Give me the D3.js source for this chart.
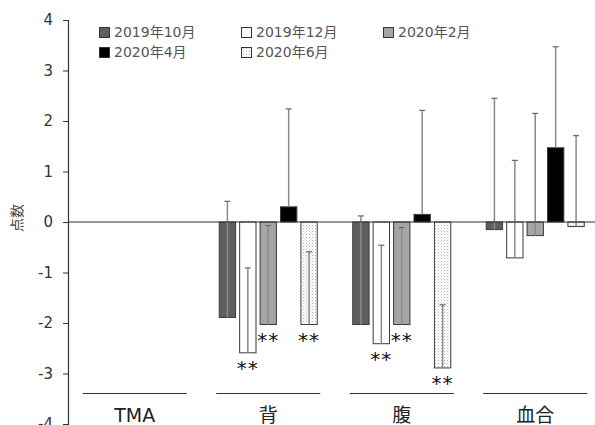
<!DOCTYPE html>
<html>
<head>
<meta charset="utf-8">
<script src="https://cdn.jsdelivr.net/npm/d3@7"></script>
<style>
  body { margin: 0; background: #fff; }
  text { font-family: "DejaVu Sans", "Noto Sans CJK JP", sans-serif; fill: #333; }
</style>
</head>
<body>
<svg id="chart" width="595" height="425"></svg>
<script>
// categories and series
const categories = ['TMA', '背', '腹', '血合'];
const series = ['2019年10月', '2019年12月', '2020年2月', '2020年4月', '2020年6月'];

// mean values per category (TMA has no bars)
const s2019_10 = [null, -1.89, -2.03, -0.15];
const s2019_12 = [null, -2.59, -2.41, -0.71];
const s2020_02 = [null, -2.03, -2.03, -0.27];
const s2020_04 = [null, 0.30, 0.15, 1.47];
const s2020_06 = [null, -2.03, -2.89, -0.09];

// top end of the error bar (value + sd)
const e2019_10 = [null, 0.41, 0.12, 2.45];
const e2019_12 = [null, -0.91, -0.46, 1.22];
const e2020_02 = [null, -0.07, -0.11, 2.15];
const e2020_04 = [null, 2.24, 2.21, 3.47];
const e2020_06 = [null, -0.59, -1.64, 1.71];

// significance marks
const sig2019_10 = [null, null, null, null];
const sig2019_12 = [null, '**', '**', null];
const sig2020_02 = [null, '**', '**', null];
const sig2020_04 = [null, null, null, null];
const sig2020_06 = [null, '**', '**', null];

const yTicks = [4, 3, 2, 1, 0, -1, -2, -3, -4];

const values = [s2019_10, s2019_12, s2020_02, s2020_04, s2020_06];
const errTops = [e2019_10, e2019_12, e2020_02, e2020_04, e2020_06];
const sigs = [sig2019_10, sig2019_12, sig2020_02, sig2020_04, sig2020_06];

const svg = d3.select('#chart');

const defs = svg.append('defs');
const pat = defs.append('pattern')
  .attr('id', 'dots')
  .attr('width', 3).attr('height', 3)
  .attr('patternUnits', 'userSpaceOnUse');
pat.append('rect').attr('width', 3).attr('height', 3).attr('fill', '#fff');
pat.append('rect').attr('x', 0).attr('y', 0).attr('width', 1).attr('height', 1).attr('fill', '#b4b4b4');
pat.append('rect').attr('x', 1.5).attr('y', 1.5).attr('width', 1).attr('height', 1).attr('fill', '#d0d0d0');

const fills = ['#5f5f5f', '#ffffff', '#a5a5a5', '#000000', 'url(#dots)'];

const y = d3.scaleLinear().domain([-4, 4]).range([424, 20]);
const x = d3.scaleBand().domain(categories).range([68, 602]).paddingInner(0);
const xs = d3.scaleBand().domain(series).range([-49, 49]).paddingInner(0.2);

// y axis
const yAxis = d3.axisLeft(y).tickValues(yTicks).tickSize(5).tickPadding(10).tickFormat(d => String(d));
const gy = svg.append('g').attr('transform', 'translate(68,0)').call(yAxis);
gy.select('.domain').attr('stroke', '#333').attr('stroke-width', 1.2);
gy.selectAll('.tick line').attr('stroke', '#333');
gy.selectAll('.tick text')
  .style('font-size', '15px')
  .style('fill', '#333')
  .style('font-family', '"DejaVu Sans", sans-serif');

svg.append('text')
  .attr('transform', 'translate(22,218) rotate(-90)')
  .attr('text-anchor', 'middle')
  .style('font-size', '14px')
  .style('fill', '#444')
  .text('点数');

// bars
const rows = [];
categories.forEach((c, ci) => {
  series.forEach((s, si) => {
    if (values[si][ci] == null) return;
    rows.push({ c, s, si, v: values[si][ci], e: errTops[si][ci], sig: sigs[si][ci] });
  });
});

const cx = d => x(d.c) + x.bandwidth() / 2 + xs(d.s);

svg.append('g').selectAll('rect')
  .data(rows)
  .join('rect')
  .attr('x', d => cx(d))
  .attr('width', xs.bandwidth())
  .attr('y', d => y(Math.max(0, d.v)))
  .attr('height', d => Math.abs(y(d.v) - y(0)))
  .attr('fill', d => fills[d.si])
  .attr('stroke', '#3a3a3a')
  .attr('stroke-width', 1);

// error bars, from bar end upward
const eb = svg.append('g');
eb.selectAll('line.v')
  .data(rows)
  .join('line')
  .attr('class', 'v')
  .attr('x1', d => cx(d) + xs.bandwidth() / 2)
  .attr('x2', d => cx(d) + xs.bandwidth() / 2)
  .attr('y1', d => y(d.v))
  .attr('y2', d => y(d.e))
  .attr('stroke', '#8a8a8a')
  .attr('stroke-width', 1.5);
eb.selectAll('line.c')
  .data(rows)
  .join('line')
  .attr('class', 'c')
  .attr('x1', d => cx(d) + xs.bandwidth() / 2 - 3)
  .attr('x2', d => cx(d) + xs.bandwidth() / 2 + 3)
  .attr('y1', d => y(d.e))
  .attr('y2', d => y(d.e))
  .attr('stroke', '#666')
  .attr('stroke-width', 1.2);

// zero line
svg.append('line')
  .attr('x1', 68).attr('x2', 595)
  .attr('y1', y(0)).attr('y2', y(0))
  .attr('stroke', '#333').attr('stroke-width', 1.2);

// significance
svg.append('g').selectAll('text')
  .data(rows.filter(d => d.sig))
  .join('text')
  .attr('x', d => cx(d) + xs.bandwidth() / 2)
  .attr('y', d => y(d.v) + 22)
  .attr('text-anchor', 'middle')
  .style('font-size', '20px')
  .style('letter-spacing', '1px')
  .style('fill', '#111')
  .text(d => d.sig);

// category separators and labels
const cg = svg.append('g');
cg.selectAll('line')
  .data(categories)
  .join('line')
  .attr('x1', d => x(d) + x.bandwidth() / 2 - 52)
  .attr('x2', d => x(d) + x.bandwidth() / 2 + 52)
  .attr('y1', 393.5).attr('y2', 393.5)
  .attr('stroke', '#333').attr('stroke-width', 1.2);
cg.selectAll('text')
  .data(categories)
  .join('text')
  .attr('x', d => x(d) + x.bandwidth() / 2)
  .attr('y', 422)
  .attr('text-anchor', 'middle')
  .style('font-size', '19px')
  .style('fill', '#222')
  .text(d => d);

// legend
const legendPos = [[99, 27], [241, 27], [383, 27], [99, 47], [241, 47]];
const lg = svg.append('g');
series.forEach((s, i) => {
  const [lx, ly] = legendPos[i];
  lg.append('rect')
    .attr('x', lx + 0.5).attr('y', ly + 0.5)
    .attr('width', 10).attr('height', 10)
    .attr('fill', fills[i])
    .attr('stroke', '#333').attr('stroke-width', 1);
  lg.append('text')
    .attr('x', lx + 15).attr('y', ly + 10)
    .style('font-size', '14px')
    .style('fill', '#555')
    .text(s);
});
</script>
</body>
</html>
